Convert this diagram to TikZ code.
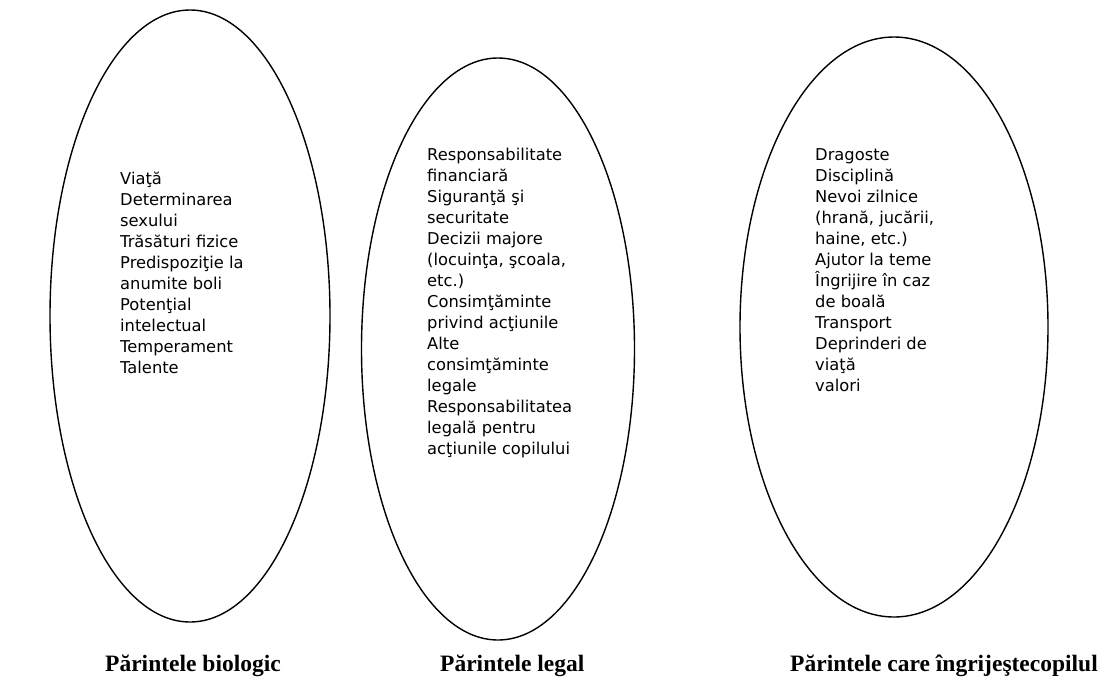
\documentclass[tikz,border=0pt]{standalone}
\usepackage{fontspec}
\setmainfont{Liberation Serif}
\newfontfamily\verd{DejaVu Sans}
\usetikzlibrary{shapes.geometric}
\begin{document}
\begin{tikzpicture}[x=1pt,y=-1pt,
  oval/.style={draw, ellipse, line width=1.4pt, inner sep=0pt},
  items/.style={align=left, anchor=north west, inner sep=0pt,
    font={\verd\fontsize{16.3}{21}\selectfont}},
  caption/.style={anchor=base west, inner sep=0pt,
    font={\bfseries\fontsize{23.5}{26}\selectfont}}]
\useasboundingbox (0,0) rectangle (1103,689);
\node[oval, minimum width=280pt, minimum height=612pt] (e1) at (190,316) {};
\node[oval, minimum width=273pt, minimum height=582pt] (e2) at (498,349) {};
\node[oval, minimum width=308pt, minimum height=580pt] (e3) at (894,327) {};
\node[items] (t1) at (120,172) {Viaţă\\Determinarea\\sexului\\Trăsături fizice\\Predispoziţie la\\anumite boli\\Potenţial\\intelectual\\Temperament\\Talente};
\node[items] (t2) at (427,148) {Responsabilitate\\financiară\\Siguranţă şi\\securitate\\Decizii majore\\(locuinţa, şcoala,\\etc.)\\Consimţăminte\\privind acţiunile\\Alte\\consimţăminte\\legale\\Responsabilitatea\\legală pentru\\acţiunile copilului};
\node[items] (t3) at (815,148) {Dragoste\\Disciplină\\Nevoi zilnice\\(hrană, jucării,\\haine, etc.)\\Ajutor la teme\\Îngrijire în caz\\de boală\\Transport\\Deprinderi de\\viaţă\\valori};
\node[caption] (c1) at (105,671) {Părintele biologic};
\node[caption] (c2) at (440,671) {Părintele legal};
\node[caption] (c3) at (790,671) {Părintele care îngrijeştecopilul};
\end{tikzpicture}
\end{document}
